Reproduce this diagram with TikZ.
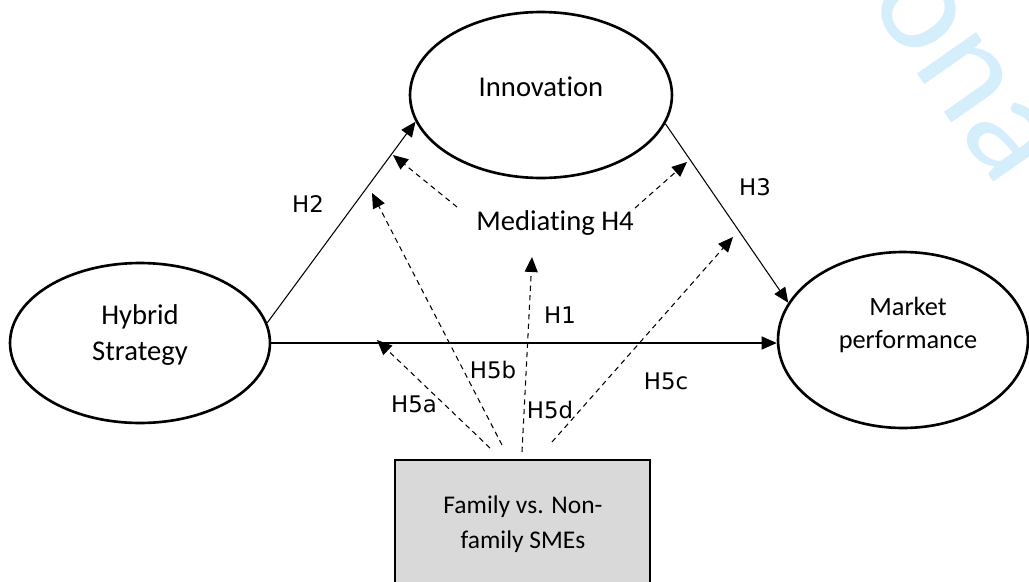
\documentclass[tikz,border=0pt]{standalone}
\usepackage{fontspec}
\setmainfont{Carlito}[Ligatures={NoCommon}]
\newfontfamily\dejavu{DejaVu Sans}
\usetikzlibrary{shapes.geometric,arrows.meta}
\definecolor{wm}{RGB}{213,238,251}
\definecolor{boxfill}{RGB}{217,217,217}
\begin{document}
\begin{tikzpicture}[x=0.02cm,y=-0.02cm,
  oval/.style={ellipse,draw,line width=1.5pt,inner sep=0pt},
  txt/.style={inner sep=0pt,align=center,font=\fontsize{16.3}{20.5}\selectfont},
  lbl/.style={inner sep=0pt,font=\dejavu\fontsize{13}{15}\selectfont},
  tri/.style={-{Triangle[length=0.3cm,width=0.26cm]}},
  solidarrow/.style={tri,line width=0.6pt},
  dasharrow/.style={tri,line width=0.6pt,dash pattern=on 3pt off 2.4pt},
  ]
\useasboundingbox (0,0) rectangle (1029,582);
\clip (0,0) rectangle (1029,582);
% watermark
\node[rotate=-55,text=wm,inner sep=0pt,font=\fontsize{86}{86}\selectfont] (wmark) at (962,74) {ona};
% ellipses
\node[oval,minimum width=5.24cm,minimum height=3.32cm] (inn) at (541,95) {};
\node[oval,minimum width=5.2cm,minimum height=3.2cm] (hs) at (140,343) {};
\node[oval,minimum width=5.0cm,minimum height=3.52cm] (mp) at (903,340) {};
% box
\node[draw,line width=1.5pt,fill=boxfill,minimum width=5.1cm,minimum height=3cm,inner sep=0pt] (fam) at (522.5,535) {};
% texts
\node[txt] (inntxt) at (541,87) {Innovation};
\node[txt] (hstxt) at (140,335) {Hybrid\\Strategy};
\node[txt,font=\fontsize{15}{19.3}\selectfont] (mptxt) at (908,325) {Market\\performance};
\node[txt,font=\fontsize{14.5}{19.9}\selectfont] (famtxt) at (523,524) {Family vs. Non-\\family SMEs};
\node[txt] (med) at (555,223) {Mediating H4};
% labels
\node[lbl] (lh2) at (308,204) {H2};
\node[lbl] (lh3) at (755,187) {H3};
\node[lbl] (lh1) at (560,315) {H1};
\node[lbl] (lh5a) at (414,404) {H5a};
\node[lbl] (lh5b) at (493,370) {H5b};
\node[lbl] (lh5d) at (550,410) {H5d};
\node[lbl] (lh5c) at (666,381) {H5c};
% coordinates
\coordinate (m4l) at (457,207);
\coordinate (m4r) at (635,208);
\coordinate (t4l) at (393,155);
\coordinate (t4r) at (687,162);
\coordinate (s5a) at (490,448);
\coordinate (s5b) at (502,445);
\coordinate (s5d) at (522,452);
\coordinate (s5c) at (552,442);
\coordinate (t5a) at (377,340);
\coordinate (t5b) at (372,193);
\coordinate (t5d) at (532,257);
\coordinate (t5c) at (733,237);
% solid arrows
\draw[solidarrow] (hs.9.4) -- (inn.192.2);
\draw[solidarrow] (inn.-13.8) -- (mp.162.8);
\draw[solidarrow] (hs.east) -- (hs.east -| mp.west);
% dashed arrows
\draw[dasharrow] (m4l) -- (t4l);
\draw[dasharrow] (m4r) -- (t4r);
\draw[dasharrow] (s5a) -- (t5a);
\draw[dasharrow] (s5b) -- (t5b);
\draw[dasharrow] (s5d) -- (t5d);
\draw[dasharrow] (s5c) -- (t5c);
\end{tikzpicture}
\end{document}
